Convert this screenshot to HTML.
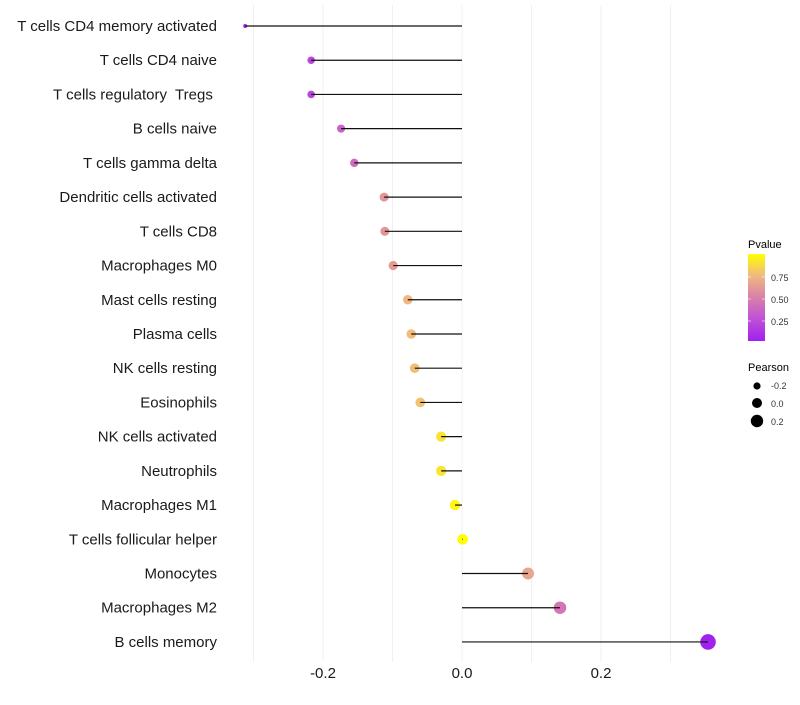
<!DOCTYPE html>
<html><head><meta charset="utf-8"><style>
body{margin:0;background:#fff;}
svg text{font-family:"Liberation Sans",Arial,sans-serif;}
</style></head><body>
<svg id="chart" width="800" height="700" xmlns="http://www.w3.org/2000/svg">
<g id="grid"></g>
<g id="marks"></g>
<g id="ylab"></g>
<g id="xlab"></g>
<g id="legend">
<defs><linearGradient id="pg" x1="0" y1="1" x2="0" y2="0">
<stop offset="0" stop-color="#a020f0"/><stop offset="0.25" stop-color="#c050d8"/><stop offset="0.5" stop-color="#d880a8"/><stop offset="0.75" stop-color="#f0b880"/><stop offset="1" stop-color="#ffff00"/></linearGradient></defs>
<text x="748" y="248" font-size="11">Pvalue</text>
<rect x="748" y="254" width="17" height="87" fill="url(#pg)"/>
<line x1="748" y1="277" x2="751" y2="277" stroke="#fff" opacity="0.6"/><line x1="762" y1="277" x2="765" y2="277" stroke="#fff" opacity="0.6"/>
<line x1="748" y1="299" x2="751" y2="299" stroke="#fff" opacity="0.6"/><line x1="762" y1="299" x2="765" y2="299" stroke="#fff" opacity="0.6"/>
<line x1="748" y1="321" x2="751" y2="321" stroke="#fff" opacity="0.6"/><line x1="762" y1="321" x2="765" y2="321" stroke="#fff" opacity="0.6"/>
<text x="771" y="281" font-size="9" fill="#333">0.75</text>
<text x="771" y="303" font-size="9" fill="#333">0.50</text>
<text x="771" y="325" font-size="9" fill="#333">0.25</text>
<text x="748" y="371" font-size="11">Pearson</text>
<circle cx="757" cy="386" r="3.6"/><text x="771" y="389" font-size="9" fill="#333">-0.2</text>
<circle cx="757" cy="403" r="5"/><text x="771" y="407" font-size="9" fill="#333">0.0</text>
<circle cx="757" cy="421" r="6.2"/><text x="771" y="425" font-size="9" fill="#333">0.2</text>
</g>
</svg>
<script>
const categories=["T cells CD4 memory activated","T cells CD4 naive","T cells regulatory  Tregs ","B cells naive","T cells gamma delta","Dendritic cells activated","T cells CD8","Macrophages M0","Mast cells resting","Plasma cells","NK cells resting","Eosinophils","NK cells activated","Neutrophils","Macrophages M1","T cells follicular helper","Monocytes","Macrophages M2","B cells memory"];
const pearson=[-0.312,-0.217,-0.217,-0.174,-0.155,-0.112,-0.111,-0.099,-0.078,-0.073,-0.068,-0.060,-0.030,-0.030,-0.010,0.001,0.095,0.141,0.354];
const pvalue=[0.02,0.2,0.2,0.35,0.4,0.6,0.6,0.62,0.75,0.76,0.77,0.78,0.9,0.9,0.98,1.0,0.67,0.45,0.01];
const xTicks=[-0.2,0.0,0.2];
const xTickLabels=["-0.2","0.0","0.2"];
const gridVals=[-0.3,-0.2,-0.1,0,0.1,0.2,0.3];
const NS="http://www.w3.org/2000/svg";
const x=v=>462+v*695;
const y=i=>26+i*34.22;
const stops=[[0,[160,32,240]],[0.25,[192,80,216]],[0.5,[216,128,168]],[0.75,[240,184,128]],[1,[255,255,0]]];
function col(p){p=Math.max(0,Math.min(1,p));for(let k=1;k<stops.length;k++){if(p<=stops[k][0]){const a=stops[k-1],b=stops[k],t=(p-a[0])/(b[0]-a[0]);return "rgb("+a[1].map((c,j)=>Math.round(c+(b[1][j]-c)*t)).join(",")+")";}}}
const rad=v=>v<-0.3?2:Math.max(2,5.3+7*v);
function mk(tag,attrs,parent){const e=document.createElementNS(NS,tag);for(const k in attrs)e.setAttribute(k,attrs[k]);document.getElementById(parent).appendChild(e);return e;}
gridVals.forEach(g=>{const l=mk("line",{x1:x(g),x2:x(g),y1:5,y2:662,stroke:"#f0f0f0","stroke-width":1},"grid");

});
categories.forEach((c,i)=>{
const pt=mk("circle",{cx:x(pearson[i]),cy:y(i),r:rad(pearson[i]),fill:col(pvalue[i])},"marks");


const seg=mk("line",{x1:x(0),x2:x(pearson[i]),y1:y(i),y2:y(i),stroke:"#111","stroke-width":1.2},"marks");


const t=mk("text",{x:217,y:y(i)+5,"text-anchor":"end","font-size":"15",fill:"#1a1a1a","xml:space":"preserve"},"ylab");
t.style.whiteSpace="pre";t.textContent=c;


});
xTicks.forEach((v,i)=>{const t=mk("text",{x:x(v),y:678,"text-anchor":"middle","font-size":"15",fill:"#1a1a1a"},"xlab");t.textContent=xTickLabels[i];

});
</script>
</body></html>
